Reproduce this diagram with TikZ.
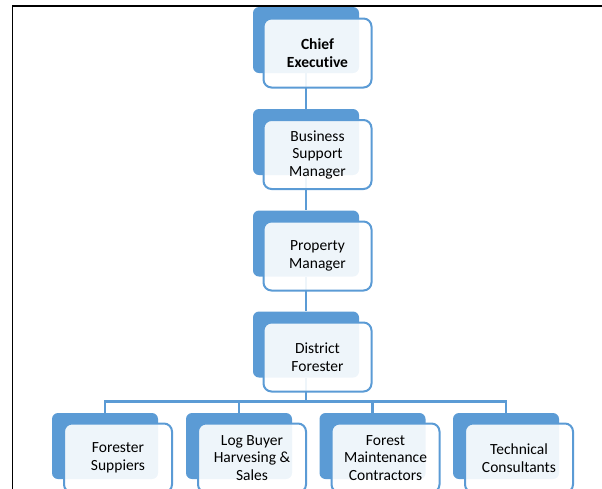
\documentclass[tikz,border=0pt]{standalone}
\usepackage{fontspec}
\setmainfont[Ligatures={NoCommon}]{Carlito}
\definecolor{sblue}{HTML}{5B9BD5}
\begin{document}
\begin{tikzpicture}[x=1pt,y=-1pt,
  back/.style={fill=sblue,draw=none,rounded corners=6pt,minimum width=106pt,minimum height=66pt,inner sep=0pt},
  front/.style={draw=sblue,line width=2pt,fill=white,fill opacity=0.9,text opacity=1,rounded corners=8pt,
    minimum width=108pt,minimum height=69pt,inner sep=0pt,align=center,
    font=\fontsize{15.5pt}{17.5pt}\selectfont},
  conn/.style={draw=sblue,line width=2.6pt}]
\useasboundingbox (0,0) rectangle (602,488);
% frame (cropped)
\draw[line width=1.6pt,black] (12.5,495) -- (12.5,6) -- (610,6);
% back boxes
\node[back] (b1) at (306,40) {};
\node[back] (b2) at (306,142) {};
\node[back] (b3) at (306,243.5) {};
\node[back] (b4) at (306,344.5) {};
\node[back] (c1) at (105,446) {};
\node[back] (c2) at (239,446) {};
\node[back] (c3) at (372.5,446) {};
\node[back] (c4) at (506,446) {};
% connectors
\coordinate (bus) at (306,401.5);
\draw[conn] (b1.south) -- (b2.north);
\draw[conn] (b2.south) -- (b3.north);
\draw[conn] (b3.south) -- (b4.north);
\draw[conn] (b4.south) -- (bus);
\draw[conn] (c1.north) |- (bus);
\draw[conn] (c2.north) |- (bus);
\draw[conn] (c3.north) |- (bus);
\draw[conn] (c4.north) |- (bus);
% front boxes
\node[front] (f1) at (317.5,53) {\textbf{Chief}\\\textbf{Executive}};
\node[front] (f2) at (317.5,154.5) {Business\\Support\\Manager};
\node[front] (f3) at (317.5,256) {Property\\Manager};
\node[front] (f4) at (317.5,357) {District\\Forester};
\node[front] (g1) at (118,458) {Forester\\Suppiers};
\node[front] (g2) at (252,458) {Log Buyer\\Harvesing \&\\Sales};
\node[front] (g3) at (385.5,458) {Forest\\Maintenance\\Contractors};
\node[front] (g4) at (519,458) {Technical\\Consultants};
\end{tikzpicture}
\end{document}
